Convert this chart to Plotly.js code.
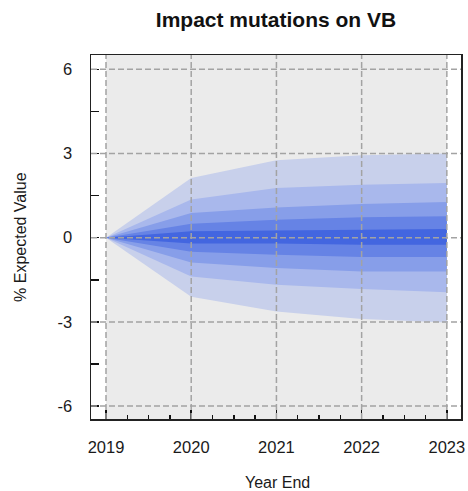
<!DOCTYPE html>
<html>
<head>
<meta charset="utf-8">
<script src="https://cdn.plot.ly/plotly-3.0.1.min.js"></script>
<style>html,body{margin:0;padding:0;background:#fff;}#chart{width:468px;height:491px;}</style>
</head>
<body>
<div id="chart"></div>
<script>
// ---- data ----
var years = [2019, 2020, 2021, 2022, 2023];
var yTicks = [-6, -3, 0, 3, 6];
var xTitle = 'Year End';
var yTitle = '% Expected Value';

// fan bands, outermost (lightest) to innermost (darkest)
var band5Upper = [0, 2.13, 2.76, 2.94, 3.00];
var band5Lower = [0, -2.10, -2.63, -2.90, -3.02];
var band4Upper = [0, 1.36, 1.77, 1.89, 1.95];
var band4Lower = [0, -1.38, -1.68, -1.83, -1.94];
var band3Upper = [0, 0.88, 1.08, 1.20, 1.27];
var band3Lower = [0, -0.88, -1.08, -1.20, -1.20];
var band2Upper = [0, 0.50, 0.64, 0.73, 0.76];
var band2Lower = [0, -0.50, -0.61, -0.69, -0.69];
var band1Upper = [0, 0.23, 0.26, 0.29, 0.31];
var band1Lower = [0, -0.21, -0.21, -0.25, -0.25];

var bands = [
  {up: band5Upper, lo: band5Lower, color: '#c8d0eb'},
  {up: band4Upper, lo: band4Lower, color: '#a9b8ec'},
  {up: band3Upper, lo: band3Lower, color: '#879ee9'},
  {up: band2Upper, lo: band2Lower, color: '#6683e5'},
  {up: band1Upper, lo: band1Lower, color: '#4366e0'}
];

var traces = bands.map(function (b) {
  return {
    type: 'scatter',
    mode: 'lines',
    x: years.concat(years.slice().reverse()),
    y: b.up.concat(b.lo.slice().reverse()),
    fill: 'toself',
    fillcolor: b.color,
    line: {width: 0, color: b.color},
    hoverinfo: 'skip',
    showlegend: false
  };
});

var gridStyle = {color: '#a3a3a3', width: 1.5, dash: '6px,3px'};
var shapes = [{
  type: 'rect', xref: 'x', yref: 'paper',
  x0: years[0], x1: years[years.length - 1], y0: 0, y1: 1,
  fillcolor: '#ebebeb', line: {width: 0}, layer: 'below'
}];
years.forEach(function (yr) {
  shapes.push({type: 'line', xref: 'x', yref: 'paper', x0: yr, x1: yr, y0: 0, y1: 1,
               line: gridStyle, layer: 'above'});
});
yTicks.forEach(function (v) {
  shapes.push({type: 'line', xref: 'paper', yref: 'y', x0: 0, x1: 1, y0: v, y1: v,
               line: gridStyle, layer: 'above'});
});

var font = 'Liberation Sans, Arial, sans-serif';
var layout = {
  width: 468, height: 491,
  margin: {l: 91, r: 7, t: 55, b: 72},
  paper_bgcolor: '#ffffff',
  plot_bgcolor: '#ffffff',
  font: {family: font, color: '#1a1a1a', size: 14},
  title: {
    text: '<b>Impact mutations on VB</b>',
    font: {family: font, size: 21, color: '#111111'},
    x: 0.5, xref: 'paper', xanchor: 'center',
    y: 1 - 20 / 491, yref: 'container', yanchor: 'middle'
  },
  xaxis: {
    range: [2018.824, 2023.166],
    tickvals: years,
    ticktext: years.map(String),
    ticks: 'inside', ticklen: 9, tickwidth: 1.5, tickcolor: '#111',
    minor: {dtick: 0.25, tick0: 2019, ticks: 'inside', ticklen: 4, tickwidth: 1.5, tickcolor: '#111', showgrid: false},
    showgrid: false, zeroline: false,
    showline: true, linecolor: '#222', linewidth: 1.5, mirror: true,
    tickfont: {family: font, size: 16.5, color: '#1a1a1a'},
    ticklabelstandoff: 13
  },
  yaxis: {
    range: [-6.46, 6.51],
    tickvals: yTicks,
    ticktext: yTicks.map(String),
    ticks: 'inside', ticklen: 8, tickwidth: 1.5, tickcolor: '#111',
    minor: {dtick: 1.5, tick0: 0, ticks: 'inside', ticklen: 8, tickwidth: 1.5, tickcolor: '#111', showgrid: false},
    showgrid: false, zeroline: false,
    showline: true, linecolor: '#222', linewidth: 1.5, mirror: true,
    tickfont: {family: font, size: 16.5, color: '#1a1a1a'},
    ticklabelstandoff: 14
  },
  annotations: [
    {text: xTitle, xref: 'paper', yref: 'paper', x: 0.503, y: -0.175,
     xanchor: 'center', yanchor: 'middle', showarrow: false, borderpad: 0,
     font: {family: font, size: 16, color: '#1a1a1a'}},
    {text: yTitle, xref: 'paper', yref: 'paper', x: -0.192, y: 0.5,
     xanchor: 'center', yanchor: 'middle', textangle: -90, showarrow: false,
     font: {family: font, size: 16, color: '#1a1a1a'}}
  ],
  shapes: shapes
};

Plotly.newPlot('chart', traces, layout, {displayModeBar: false, staticPlot: true});
</script>
</body>
</html>
